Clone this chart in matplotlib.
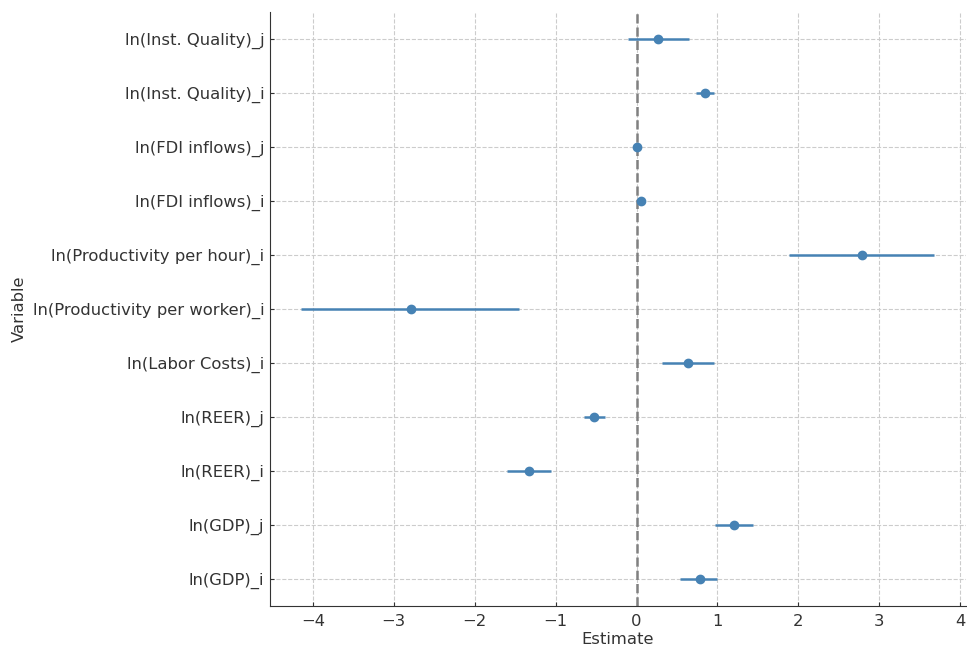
import matplotlib
matplotlib.use("Agg")
import matplotlib.pyplot as plt

# coefficients and confidence bounds (bottom to top)
variables = ['ln(GDP)_i', 'ln(GDP)_j', 'ln(REER)_i', 'ln(REER)_j', 'ln(Labor Costs)_i',
             'ln(Productivity per worker)_i', 'ln(Productivity per hour)_i',
             'ln(FDI inflows)_i', 'ln(FDI inflows)_j',
             'ln(Inst. Quality)_i', 'ln(Inst. Quality)_j']
estimate = [0.78, 1.21, -1.33, -0.52, 0.64, -2.79, 2.78, 0.05, 0.01, 0.85, 0.27]
lower = [0.54, 0.97, -1.60, -0.65, 0.32, -4.14, 1.88, 0.03, -0.01, 0.74, -0.10]
upper = [1.00, 1.44, -1.06, -0.39, 0.96, -1.45, 3.68, 0.07, 0.03, 0.96, 0.65]

xerr = [[e - l for e, l in zip(estimate, lower)],
        [u - e for e, u in zip(estimate, upper)]]

plt.rcParams['text.color'] = '#333333'
plt.rcParams['axes.labelcolor'] = '#333333'
plt.rcParams['xtick.color'] = '#333333'
plt.rcParams['ytick.color'] = '#333333'

fig, ax = plt.subplots(figsize=(9.67, 6.48), dpi=100)
fig.subplots_adjust(left=0.279, right=0.999, top=0.981, bottom=0.065)

ypos = list(range(len(variables)))
ax.errorbar(estimate, ypos, xerr=xerr, fmt='o', color='#4682b4', ecolor='#4682b4',
            elinewidth=1.8, markersize=6, capsize=0, zorder=3)
ax.axvline(0, color='gray', linestyle='--', linewidth=1.8, zorder=2)

ax.set_yticks(ypos)
ax.set_yticklabels(variables, fontsize=11.75)
ax.set_ylim(-0.5, len(variables) - 0.5)
ax.tick_params(axis='x', labelsize=11.75, direction='in', length=3, pad=6)
ax.tick_params(axis='y', direction='in', length=3, pad=4)
ax.set_xlabel('Estimate', fontsize=11.75, labelpad=2)
ax.set_ylabel('Variable', fontsize=11.75)
ax.grid(True, linestyle='--', color='#cccccc', linewidth=0.8)
ax.set_axisbelow(True)
for s in ['top', 'right']:
    ax.spines[s].set_visible(False)
for s in ['left', 'bottom']:
    ax.spines[s].set_color('#333333')

fig.savefig('out.png', dpi=100)
